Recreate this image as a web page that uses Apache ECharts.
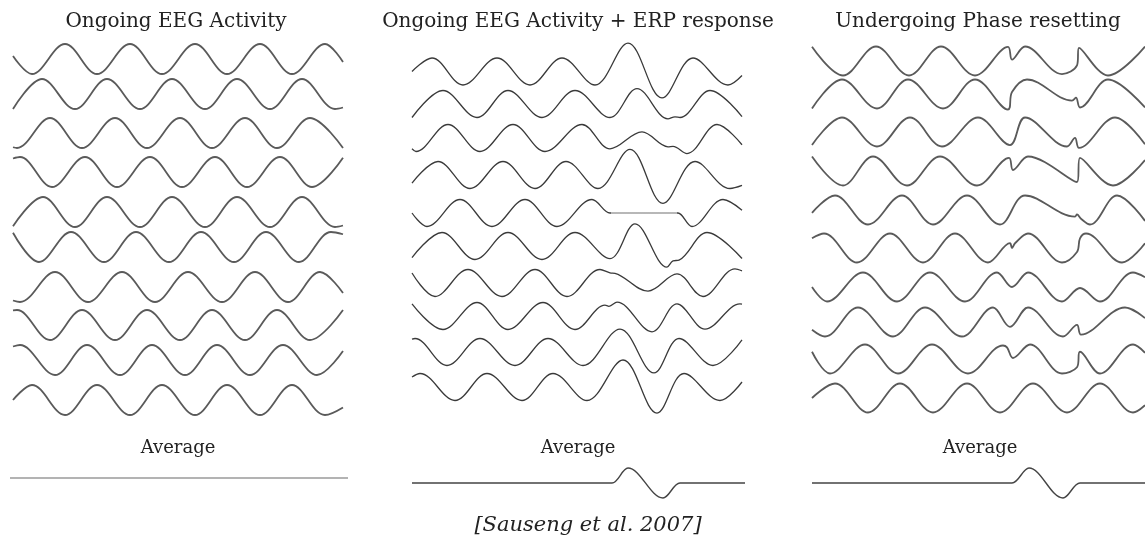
<!DOCTYPE html>
<html>
<head>
<meta charset="utf-8">
<script src="https://cdn.jsdelivr.net/npm/echarts@6/dist/echarts.min.js"></script>
<style>
html,body{margin:0;padding:0;background:#fff;}
#chart{width:1145px;height:547px;}
</style>
</head>
<body>
<div id="chart"></div>
<script>
// ---------- DATA (t = sample index, v = amplitude in units of the ongoing-wave amplitude) ----------
const panelTitles = ["Ongoing EEG Activity", "Ongoing EEG Activity + ERP response", "Undergoing Phase resetting"];
const averageLabel = "Average";
const caption = "[Sauseng et al. 2007]";

const ongoingTraces = [
  [[0,0.2],[19,-1],[52,1],[84,-1],[117,1],[149,-1],[182,1],[214,-1],[247,1],[279,-1],[312,1],[330,-0.2]],
  [[0,-1],[29,1],[62,-1],[94,1],[127,-1],[159,1],[192,-1],[224,1],[257,-1],[289,1],[322,-1],[330,-0.9]],
  [[0,-0.95],[4,-1],[37,1],[69,-1],[102,1],[134,-1],[167,1],[199,-1],[232,1],[264,-1],[297,1],[330,-1]],
  [[0,0.9],[7,1],[39,-1],[72,1],[104,-1],[137,1],[169,-1],[202,1],[234,-1],[267,1],[299,-1],[330,0.95]],
  [[0,-0.95],[30,1],[62,-1],[94,1],[127,-1],[159,1],[192,-1],[224,1],[257,-1],[289,1],[322,-1],[330,-0.9]],
  [[0,0.95],[26,-1],[58,1],[91,-1],[123,1],[156,-1],[188,1],[221,-1],[253,1],[286,-1],[318,1],[330,0.85]],
  [[0,-0.9],[7,-1],[42,1],[75,-1],[109,1],[142,-1],[175,1],[209,-1],[242,1],[275,-1],[307,1],[330,-0.4]],
  [[0,0.98],[4,1],[37,-1],[69,1],[102,-1],[134,1],[167,-1],[199,1],[232,-1],[264,1],[297,-1],[330,1]],
  [[0,0.9],[7,1],[42,-1],[74,1],[107,-1],[139,1],[172,-1],[204,1],[237,-1],[270,1],[304,-1],[330,0.6]],
  [[0,0],[19,1],[52,-1],[84,1],[117,-1],[149,1],[182,-1],[214,1],[247,-1],[279,1],[312,-1],[330,-0.5]]
];

const erpTraces = [
  [[0,0],[20,1],[51,-1],[85,1],[118,-1],[150,1],[183,-1],[216,2.1],[250,-1.96],[281,1],[316,-1],[330,-0.3]],
  [[0,-1],[31,1],[65,-1],[96,1],[130,-1],[163,1],[198,-1],[225,1.14],[256,-1.1],[263,-0.95],[268,-1.0],[298,1],[330,-0.93]],
  [[0,-0.8],[4,-1],[36,1],[68,-1],[101,1],[133,-1],[170,1],[198,-0.8],[230,0.45],[256,-0.65],[261,-0.62],[275,-1.15],[305,1],[330,-0.5]],
  [[0,-0.6],[26,1],[58,-1],[91,1],[123,-1],[154,1],[186,-1],[218,1.9],[251,-2.1],[283,1],[318,-1],[330,-0.77]],
  [[0,0],[15,-1],[48,1],[80,-1],[113,1],[145,-1],[180,1],[198,0],[203,0],[261,0],[266,0],[280,-1],[311,1],[330,0.2]],
  [[0,-0.86],[30,1],[63,-1],[96,1],[130,-1],[163,1],[198,-0.93],[223,1.64],[255,-1.57],[261,-1.1],[267,-1.05],[295,1],[330,-0.93]],
  [[0,0.74],[23,-1],[56,1],[90,-1],[123,1],[155,-1],[188,1],[198,0.75],[203,0.72],[236,-0.6],[265,0.67],[291,-1],[323,1.05],[330,0.9]],
  [[0,0.9],[31,-1],[65,1],[96,-1],[131,1],[163,-1],[193,0.8],[197,0.72],[205,1.03],[240,-1.17],[265,0.9],[293,-0.97],[328,0.9],[330,0.88]],
  [[0,0.95],[3,1],[35,-1],[68,1],[103,-1],[136,1],[171,-1],[208,1.7],[242,-1.55],[267,1],[301,-1],[330,0.9]],
  [[0,0.74],[8,1],[43,-1],[75,1],[110,-1],[141,1],[175,-1],[211,2],[245,-1.93],[272,1],[308,-1],[330,0.37]]
];

const resetTraces = [
  [[0,0.98],[31,-1],[64,1],[97,-1],[129,1],[163,-1],[196,0.97],[200,0.1],[213,1],[250,-0.9],[265,-0.3],[267,0.9],[296,-1],[333,1]],
  [[0,-1],[30,1],[65,-1],[96,1],[131,-1],[163,1],[196,-1.07],[200,0.14],[215,1],[260,-0.45],[264,-0.25],[268,-0.93],[296,1],[333,-0.93]],
  [[0,-0.9],[30,1],[65,-1],[98,1],[130,-1],[166,1],[198,-0.9],[213,1],[255,-1],[263,-0.4],[267,-1.1],[303,1],[333,-0.85]],
  [[0,1],[31,-1],[61,1],[95,-1],[128,1],[165,-1],[197,0.9],[201,0.07],[216,1],[265,-0.76],[268,0.9],[301,-1],[333,0.76]],
  [[0,-0.2],[23,1],[56,-1],[90,1],[121,-1],[155,1],[188,-1],[213,1],[263,-0.45],[265,-0.3],[269,-0.6],[278,-1],[305,1],[333,-0.75]],
  [[0,0.67],[12,1],[45,-1],[78,1],[111,-1],[143,1],[176,-1],[198,0.33],[200,0],[203,0.33],[216,1],[250,-1],[265,-0.27],[268,0.67],[274,1],[310,-1],[333,0.33]],
  [[0,0],[15,-1],[51,1],[85,-1],[118,1],[153,-1],[185,1],[200,0],[216,1],[250,-1],[268,-0.07],[288,-1],[321,1],[333,0.67]],
  [[0,-0.53],[13,-1],[46,1],[81,-1],[113,1],[150,-1],[181,1],[198,-0.33],[216,1],[251,-1],[265,-0.2],[269,-0.87],[313,1],[333,0.27]],
  [[0,0.5],[18,-1],[53,1],[86,-1],[120,1],[156,-1],[191,0.93],[195,0.8],[201,0.07],[218,1],[250,-1],[265,-0.57],[268,0.5],[288,-1],[321,1],[333,0.43]],
  [[0,0],[23,1],[56,-1],[88,1],[121,-1],[155,1],[188,-1],[221,1],[255,-1],[288,1],[321,-1],[333,-0.5]]
];

const avgOngoing = [[0,0],[338,0]];
const avgErp = [[0,0],[190,0],[200,0],[216,1],[251,-1],[268,0],[278,0],[333,0]];
const avgReset = [[0,0],[190,0],[200,0],[217,1],[251,-1],[268,0],[278,0],[333,0]];

// part of the ERP panel's 5th trial that is drawn in a lighter grey (flat stretch)
const erpFlatRange = [199, 265];

// ---------- LAYOUT ----------
const panels = [
  {traces: ongoingTraces, avg: avgOngoing, left: 13, width: 330, tMax: 330,
   centers: [59, 94, 133, 172, 212, 247, 287, 325, 360, 400], amp: 15,
   color: '#5a5a5a', lw: 1.8, avgLeft: 10, avgWidth: 338, avgMax: 338, avgCenter: 478, avgColor: '#9a9a9a',
   titleX: 176, labelX: 178},
  {traces: erpTraces, avg: avgErp, left: 412, width: 330, tMax: 330,
   centers: [71.5, 104, 138, 175, 213, 246, 283, 316, 352, 387], amp: 13.5,
   color: '#3a3a3a', lw: 1.3, avgLeft: 412, avgWidth: 333, avgMax: 333, avgCenter: 483, avgColor: '#444',
   titleX: 578, labelX: 578},
  {traces: resetTraces, avg: avgReset, left: 812, width: 333, tMax: 333,
   centers: [61, 94, 132, 171, 210, 248, 287, 322, 359, 398], amp: 14.5,
   color: '#5a5a5a', lw: 1.8, avgLeft: 812, avgWidth: 333, avgMax: 333, avgCenter: 483, avgColor: '#444',
   titleX: 978, labelX: 980}
];

const grid = [], xAxis = [], yAxis = [], series = [];
function addLine(data, left, width, tMax, center, amp, color, lw) {
  const i = grid.length;
  grid.push({left: left, width: width, top: center - amp, height: 2 * amp});
  xAxis.push({type: 'value', gridIndex: i, min: 0, max: tMax, show: false});
  yAxis.push({type: 'value', gridIndex: i, min: -1, max: 1, show: false});
  const lineStyle = {width: lw};
  if (color) lineStyle.color = color;
  series.push({
    type: 'line', xAxisIndex: i, yAxisIndex: i, data: data,
    smooth: 0.36, showSymbol: false, symbol: 'none', clip: false, silent: true,
    lineStyle: lineStyle
  });
  return i;
}
let flatSeriesIndex = -1;
panels.forEach((p, pi) => {
  p.traces.forEach((tr, k) => {
    const special = (pi === 1 && k === 4);
    const idx = addLine(tr, p.left, p.width, p.tMax, p.centers[k], p.amp, special ? null : p.color, p.lw);
    if (special) flatSeriesIndex = idx;
  });
  addLine(p.avg, p.avgLeft, p.avgWidth, p.avgMax, p.avgCenter, 15, p.avgColor, 1.4);
});

const graphic = [];
panels.forEach((p, k) => {
  graphic.push({type: 'text', x: p.titleX, y: 22, silent: true,
    style: {text: panelTitles[k], fill: '#222', font: '20px "DejaVu Serif"', align: 'center', verticalAlign: 'middle'}});
  graphic.push({type: 'text', x: p.labelX, y: 448, silent: true,
    style: {text: averageLabel, fill: '#222', font: '18px "DejaVu Serif"', align: 'center', verticalAlign: 'middle'}});
});
graphic.push({type: 'text', x: 588, y: 526, silent: true,
  style: {text: caption, fill: '#222', font: 'italic 21px "DejaVu Serif"', align: 'center', verticalAlign: 'middle'}});

const chart = echarts.init(document.getElementById('chart'), null, {renderer: 'canvas'});
chart.setOption({
  backgroundColor: '#ffffff',
  animation: false,
  grid: grid, xAxis: xAxis, yAxis: yAxis, series: series,
  visualMap: [{
    type: 'piecewise', show: false, seriesIndex: flatSeriesIndex, dimension: 0,
    pieces: [
      {lt: erpFlatRange[0], color: '#3a3a3a'},
      {gte: erpFlatRange[0], lte: erpFlatRange[1], color: '#a0a0a0'},
      {gt: erpFlatRange[1], color: '#3a3a3a'}
    ]
  }],
  graphic: graphic
});
</script>
</body>
</html>
